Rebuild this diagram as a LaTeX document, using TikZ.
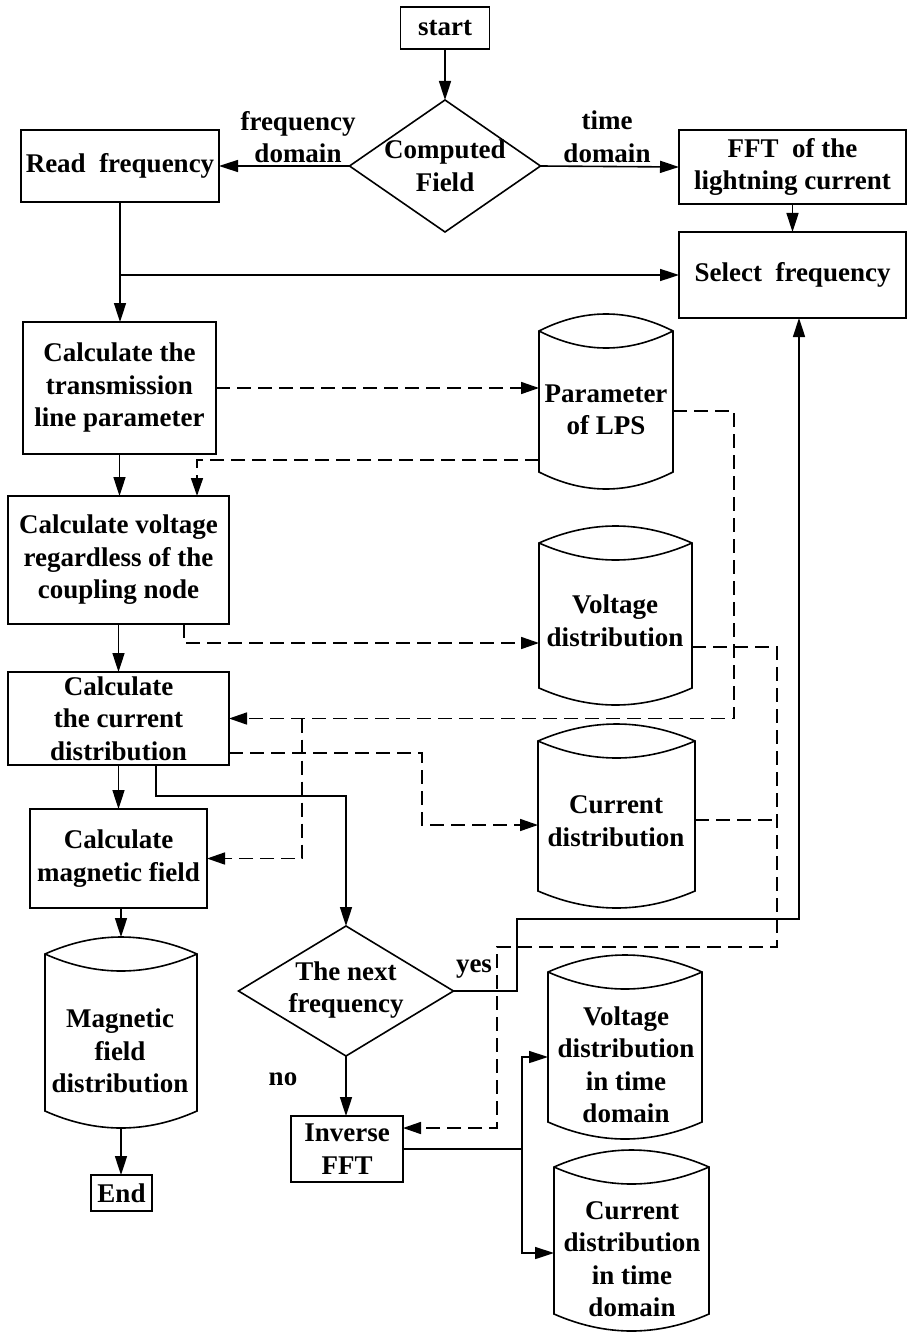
\documentclass[tikz,border=0pt]{standalone}
\usepackage{fontspec}
\setmainfont{Liberation Serif}
\usetikzlibrary{arrows.meta,shapes.geometric}
\newcommand\drawcyl[5]{%
  \pgfmathsetmacro\cylw{#3-#2}%
  \pgfmathsetmacro\cylh{#5-#4}%
  \node[draw=none, inner sep=0pt, outer sep=0pt, minimum width=\cylw pt, minimum height=\cylh pt] (#1) at ({(#2+#3)/2},{(#4+#5)/2}) {};
  \draw[shapeline] (#2,#4+17) .. controls ({#2+\cylw/3},{#4-17/3}) and ({#3-\cylw/3},{#4-17/3}) .. (#3,#4+17)
     -- (#3,#5-17) .. controls ({#3-\cylw/3},{#5+17/3}) and ({#2+\cylw/3},{#5+17/3}) .. (#2,#5-17) -- cycle;
  \draw[shapeline] (#2,#4+17) .. controls ({#2+\cylw/3},{#4+17*7/3}) and ({#3-\cylw/3},{#4+17*7/3}) .. (#3,#4+17);
}
\begin{document}
\begin{tikzpicture}[x=1pt,y=-1pt,
  every node/.style={font=\bfseries\fontsize{27}{32.5}\selectfont, align=center},
  flowbox/.style={draw, line width=1.8pt, inner sep=0pt, outer sep=0pt, rectangle},
  dia/.style={draw, diamond, line width=1.6pt, inner sep=0pt, outer sep=0pt},
  shapeline/.style={line width=1.6pt},
  lbl/.style={inner sep=0pt},
  arr/.style={line width=1.6pt, -{Triangle[length=19pt,width=12pt]}},
  sline/.style={line width=1.6pt},
  darr/.style={line width=1.6pt, dash pattern=on 14pt off 7pt, -{Triangle[length=18pt,width=12pt]}},
  dline/.style={line width=1.6pt, dash pattern=on 14pt off 7pt}]
\useasboundingbox (0,0) rectangle (907,1332);

% boxes
\node[flowbox, minimum width=89pt, minimum height=42pt] (start) at (445,28) {start};
\node[dia, minimum width=191pt, minimum height=132pt] (comp) at (445,166) {};
\node[lbl] (compt) at (445,166) {Computed\\Field};
\node[flowbox, minimum width=198pt, minimum height=72pt] (readf) at (120,166) {Read\ \ frequency};
\node[flowbox, minimum width=227pt, minimum height=74pt] (fft) at (792.5,167) {FFT\ \ of the\\lightning current};
\node[flowbox, minimum width=227pt, minimum height=86pt] (sel) at (792.5,275) {Select\ \ frequency};
\node[flowbox, minimum width=193pt, minimum height=132pt] (calctl) at (119.5,388) {Calculate the\\transmission\\line parameter};
\node[flowbox, minimum width=221pt, minimum height=128pt] (calcv) at (118.5,560) {Calculate voltage\\regardless of the\\coupling node};
\node[flowbox, minimum width=221pt, minimum height=93pt] (calcc) at (118.5,718.5) {Calculate\\the current\\distribution};
\node[flowbox, minimum width=177pt, minimum height=99pt] (calcmag) at (118.5,858.5) {Calculate\\magnetic field};
\node[dia, minimum width=215pt, minimum height=130pt] (nf) at (346,991) {};
\node[lbl] (nft) at (346,990) {The next\\frequency};
\node[flowbox, minimum width=112pt, minimum height=66pt] (ifft) at (347,1149) {Inverse\\FFT};
\node[flowbox, minimum width=61pt, minimum height=36pt] (end) at (121.5,1193) {End};

% cylinders
\drawcyl{lps}{539}{673}{314}{489}
\node[lbl] (lpst) at (606,410) {Parameter\\of LPS};
\drawcyl{vd}{539}{692}{526}{705}
\node[lbl] (vdt) at (615,621) {Voltage\\distribution};
\drawcyl{cd}{538}{695}{724}{908}
\node[lbl] (cdt) at (616,821) {Current\\distribution};
\drawcyl{mag}{45}{197}{937}{1128}
\node[lbl] (magt) at (120,1051) {Magnetic\\field\\distribution};
\drawcyl{vt}{548}{702}{955}{1139}
\node[lbl] (vtt) at (626,1065) {Voltage\\distribution\\in time\\domain};
\drawcyl{ct}{554}{709}{1150}{1331}
\node[lbl] (ctt) at (632,1259) {Current\\distribution\\in time\\domain};

% labels
\node[lbl] (lfd) at (298,137) {frequency\\domain};
\node[lbl] (ltd) at (607,137) {time\\domain};
\node[lbl] (lyes) at (474,969) {yes};
\node[lbl] (lno) at (283,1079) {no};

% solid connectors
\draw[arr] (start.south) -- (comp.north);
\draw[arr] (comp.west) -- (readf.east);
\draw[arr] (comp.east) -- (fft.west);
\draw[arr] (fft.south) -- (sel.north);
\draw[arr] (readf.south) -- (readf.south |- calctl.north);
\draw[arr] (readf.south |- sel.west) -- (sel.west);
\draw[arr] (calctl.south) -- (calctl.south |- calcv.north);
\draw[arr] (calcv.south) -- (calcc.north);
\draw[arr] (calcc.south) -- (calcmag.north);
\draw[arr] (calcmag.south -| mag.north) -- (mag.north);
\draw[arr] (mag.south) -- (mag.south |- end.north);
\coordinate (s1) at (156,796);
\draw[arr] (calcc.south -| s1) -- (s1) -- (s1 -| nf.north) -- (nf.north);
\coordinate (s2) at (517,991);
\coordinate (s3) at (517,919);
\coordinate (s4) at (799,919);
\draw[arr] (nf.east) -- (s2) -- (s3) -- (s4) -- (s4 |- sel.south);
\draw[arr] (nf.south) -- (nf.south |- ifft.north);
\coordinate (s5) at (522,1149);
\coordinate (s6) at (522,1057);
\coordinate (s7) at (522,1253);
\draw[sline] (ifft.east) -- (s5);
\draw[arr] (s5) -- (s6) -- (s6 -| vt.west);
\draw[arr] (s5) -- (s7) -- (s7 -| ct.west);

% dashed connectors
\draw[darr] (calctl.east) -- (calctl.east -| lps.west);
\coordinate (d0) at (197,460);
\draw[darr] (lps.west |- d0) -- (d0) -- (d0 |- calcv.north);
\coordinate (d1) at (734,411);
\draw[darr] (lps.east |- d1) -- (d1) -- (d1 |- calcc.east) -- (calcc.east);
\coordinate (d2) at (302,718.5);
\draw[darr] (d2) -- (d2 |- calcmag.east) -- (calcmag.east);
\coordinate (d3) at (184,643);
\draw[darr] (calcv.south -| d3) -- (d3) -- (d3 -| vd.west);
\coordinate (d4) at (422,753);
\coordinate (d5) at (422,825);
\draw[darr] (calcc.east |- d4) -- (d4) -- (d5) -- (d5 -| cd.west);
\coordinate (d6) at (777,647);
\coordinate (d7) at (777,947);
\coordinate (d8) at (497,947);
\coordinate (d9) at (497,1128);
\draw[darr] (vd.east |- d6) -- (d6) -- (d7) -- (d8) -- (d9) -- (d9 -| ifft.east);
\coordinate (d10) at (777,820);
\draw[dline] (cd.east |- d10) -- (d10);
\end{tikzpicture}
\end{document}
